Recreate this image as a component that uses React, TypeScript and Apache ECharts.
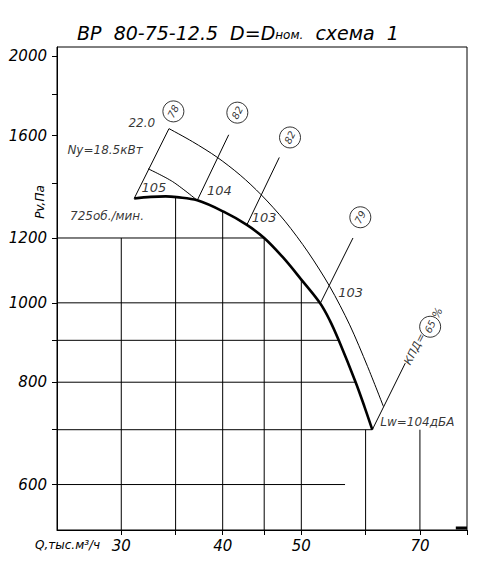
import React, { useEffect, useRef } from "react";
import * as echarts from "echarts";

// Axis ranges: flow Q, thousand m³/h (log) and total pressure Pv, Pa (log)
const Q_MIN = 25;
const Q_MAX = 80;
const P_MIN = 528;
const P_MAX = 2053;

// Tick positions and labelled values
const xTicks = [30, 35, 40, 45, 50, 60, 70, 80];
const xLabels = [30, 40, 50, 70];
const yTicks = [600, 700, 800, 900, 1000, 1200, 1400, 1600, 1800, 2000];
const yLabels = [600, 800, 1000, 1200, 1600, 2000];

// Pressure curve at 725 rpm
const curveQ = [31.12, 32.62, 34.03, 35.11, 37.22, 40.05, 42.84, 45.0, 47.47, 49.94, 52.69, 54.2, 55.6, 58.33, 59.83, 61.15];
const curveP = [1341, 1347, 1349, 1346, 1334, 1293, 1245, 1200, 1136, 1069, 1000, 952, 900, 800, 746, 700];

// Upper boundary of the working zone (power scale)
const upperQ = [34.35, 36.73, 39.37, 42.04, 44.62, 47.74, 50.94, 54.2, 57.35, 60.34, 63.12];
const upperP = [1632, 1573, 1506, 1432, 1355, 1258, 1154, 1047, 940, 836, 747];

// Inner arc between the first two rays
const innerQ = [32.37, 34.71, 37.22];
const innerP = [1458, 1406, 1334];

// Efficiency rays: foot on the curve, top end above it
const rayStartQ = [31.12, 37.22, 42.84, 52.8, 61.15];
const rayStartP = [1341, 1334, 1245, 1000, 700];
const rayEndQ = [34.35, 40.69, 46.97, 57.89, 67.15];
const rayEndP = [1632, 1604, 1505, 1200, 844];

// Circled efficiency values, %
const etaLabels = ["78", "82", "82", "79", "65"];
const etaQ = [34.78, 41.7, 48.42, 59.11, 72.06];
const etaP = [1713, 1707, 1592, 1272, 935];

// Sound power level marks, dB
const noiseLabels = ["105", "104", "103", "103"];
const noiseQ = [32.9, 39.63, 45.0, 57.51];
const noiseP = [1382, 1371, 1270, 1029];

// Horizontal grid segments (pressure, end flow) and vertical ones (flow, top pressure)
const hGridP = [1200, 1000, 900, 800, 700, 600];
const hGridEndQ = [45.0, 52.69, 55.6, 58.33, 61.15, 56.6];
const vGridQ = [30, 35, 40, 45, 50, 60, 70];
const vGridTopP = [1200, 1346, 1293, 1200, 1069, 700, 700];

// Free-standing notes
const notes = [
  { text: "22.0", q: 31.8, p: 1656 },
  { text: "Ny=18.5кВт", q: 28.65, p: 1538 },
  { text: "725об./мин.", q: 28.81, p: 1275 },
  { text: "Lw=104дБА", q: 69.48, p: 715.5 },
];

const FONT = "DejaVu Sans";
const BLACK = "#000";

const textStyleBase = {
  fontFamily: FONT,
  fontStyle: "italic" as const,
  fontWeight: 300 as const,
  color: BLACK,
};

function zip(xs: number[], ys: number[]) {
  return xs.map((x, i) => [x, ys[i]]);
}

function seg(data: number[][], width = 1, smooth: number | boolean = false) {
  return {
    type: "line" as const,
    data,
    symbol: "none",
    silent: true,
    smooth,
    lineStyle: { color: BLACK, width },
    z: 3,
  };
}

export default function App() {
  const ref = useRef<HTMLDivElement>(null);

  useEffect(() => {
    if (!ref.current) return;
    const chart = echarts.init(ref.current, undefined, { renderer: "svg" });

    const series: any[] = [];

    hGridP.forEach((p, i) => series.push(seg([[Q_MIN, p], [hGridEndQ[i], p]])));
    vGridQ.forEach((q, i) => series.push(seg([[q, P_MIN], [q, vGridTopP[i]]])));

    rayStartQ.forEach((q, i) =>
      series.push(seg([[q, rayStartP[i]], [rayEndQ[i], rayEndP[i]]]))
    );

    series.push(seg(zip(upperQ, upperP), 1, 0.3));
    series.push(seg(zip(innerQ, innerP), 1, 0.3));
    series.push({ ...seg(zip(curveQ, curveP), 2.6, 0.35), z: 5 });

    // small filled mark at the lower right corner
    series.push(seg([[77.5, 531], [Q_MAX, 531]], 3));

    // circled efficiency values
    series.push({
      type: "scatter",
      silent: true,
      data: zip(etaQ, etaP),
      symbol: "circle",
      symbolSize: 21,
      itemStyle: { color: "#fff", borderColor: BLACK, borderWidth: 1 },
      label: {
        show: true,
        position: "inside",
        rotate: 63,
        formatter: (prm: any) => etaLabels[prm.dataIndex],
        ...textStyleBase,
        fontSize: 10,
      },
      z: 6,
    });

    // noise levels
    series.push({
      type: "scatter",
      silent: true,
      data: zip(noiseQ, noiseP),
      symbolSize: 1,
      itemStyle: { color: "rgba(0,0,0,0)" },
      label: {
        show: true,
        position: "inside",
        formatter: (prm: any) => noiseLabels[prm.dataIndex],
        ...textStyleBase,
        fontSize: 13,
      },
      z: 6,
    });

    // notes
    series.push({
      type: "scatter",
      silent: true,
      data: notes.map((n) => [n.q, n.p]),
      symbolSize: 1,
      itemStyle: { color: "rgba(0,0,0,0)" },
      label: {
        show: true,
        position: "inside",
        formatter: (prm: any) => notes[prm.dataIndex].text,
        ...textStyleBase,
        fontSize: 12,
      },
      z: 6,
    });

    // efficiency caption along the last ray
    series.push({
      type: "scatter",
      silent: true,
      data: [[68.99, 878], [73.6, 972]],
      symbolSize: 1,
      itemStyle: { color: "rgba(0,0,0,0)" },
      label: {
        show: true,
        position: "inside",
        rotate: 63,
        formatter: (prm: any) => (prm.dataIndex === 0 ? "КПД=" : "%"),
        ...textStyleBase,
        fontSize: 11,
      },
      z: 6,
    });

    chart.setOption({
      animation: false,
      grid: {
        left: 57,
        top: 47,
        right: 33,
        bottom: 33,
        show: true,
        borderColor: BLACK,
        borderWidth: 1,
        backgroundColor: "transparent",
      },
      xAxis: {
        type: "log",
        logBase: 10,
        min: Q_MIN,
        max: Q_MAX,
        axisLine: { show: true, lineStyle: { color: BLACK, width: 1 } },
        axisTick: { show: true, length: 5, customValues: xTicks, lineStyle: { color: BLACK } },
        axisLabel: {
          show: true,
          customValues: xLabels,
          margin: 8,
          ...textStyleBase,
          fontSize: 15,
          formatter: (v: number) => String(v),
        },
        splitLine: { show: false },
        minorTick: { show: false },
      },
      yAxis: {
        type: "log",
        logBase: 10,
        min: P_MIN,
        max: P_MAX,
        axisLine: { show: true, lineStyle: { color: BLACK, width: 1 } },
        axisTick: { show: true, length: 5, customValues: yTicks, lineStyle: { color: BLACK } },
        axisLabel: {
          show: true,
          customValues: yLabels,
          margin: 10,
          ...textStyleBase,
          fontSize: 15,
          formatter: (v: number) => String(v),
        },
        splitLine: { show: false },
        minorTick: { show: false },
      },
      graphic: [
        {
          type: "text",
          x: 238,
          y: 33,
          style: {
            text: "{a|ВР  80-75-12.5  D=D}{b|ном.}{a|  схема  1}",
            align: "center",
            verticalAlign: "middle",
            rich: {
              a: { ...textStyleBase, fill: BLACK, fontSize: 19 },
              b: { ...textStyleBase, fill: BLACK, fontSize: 12, padding: [4, 0, 0, 0] },
            },
          },
        },
        {
          type: "text",
          x: 40,
          y: 202,
          rotation: Math.PI / 2,
          style: {
            text: "Pv,Па",
            align: "center",
            verticalAlign: "middle",
            fontFamily: FONT,
            fontStyle: "italic",
            fontSize: 12,
            fill: BLACK,
          },
        },
        {
          type: "text",
          x: 35,
          y: 545,
          style: {
            text: "Q,тыс.м³/ч",
            align: "left",
            verticalAlign: "middle",
            fontFamily: FONT,
            fontStyle: "italic",
            fontSize: 12,
            fill: BLACK,
          },
        },
      ],
      series,
    });

    return () => chart.dispose();
  }, []);

  return (
    <div
      ref={ref}
      style={{ position: "fixed", left: 0, top: 0, width: 500, height: 563, background: "#fff" }}
    />
  );
}
